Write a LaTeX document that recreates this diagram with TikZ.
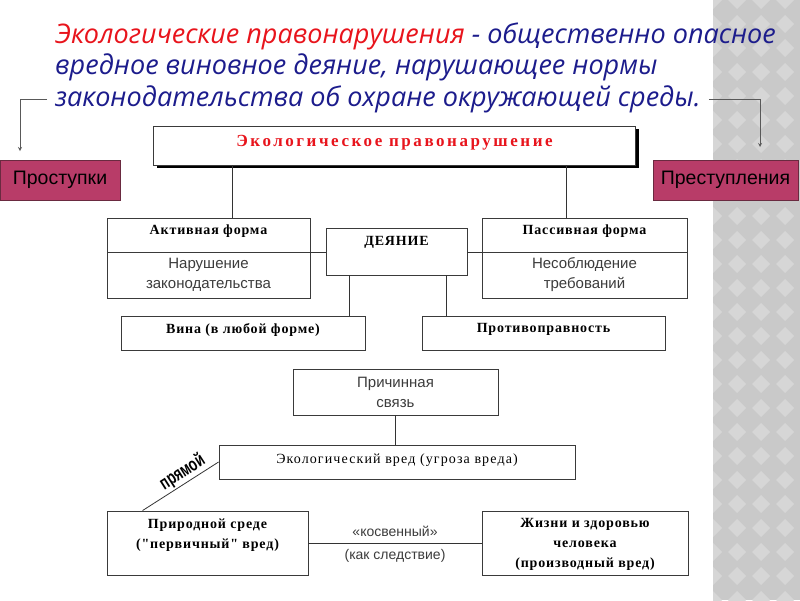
\documentclass[tikz,border=0pt]{standalone}
\usepackage{fontspec}
\setmainfont{Liberation Serif}
\setsansfont{Liberation Sans}
\newfontfamily\titlefont{Open Sans}
\newfontfamily\hdrfont[LetterSpace=6]{Liberation Serif}
\newfontfamily\ekofont[LetterSpace=15]{Liberation Serif}
\newfontfamily\vredfont[LetterSpace=8]{Liberation Serif}
\newfontfamily\narrowfont[FakeStretch=0.7]{Liberation Sans}
\usetikzlibrary{shadows}
\definecolor{titleblue}{HTML}{1C1C8C}
\definecolor{titlered}{HTML}{E8141C}
\definecolor{crimson}{HTML}{B83C68}
\definecolor{crimsonline}{HTML}{6A2A40}
\definecolor{boxline}{HTML}{3A3A3A}
\definecolor{textgray}{HTML}{3C3C3C}
\definecolor{stripgray}{HTML}{C9C9C9}
\definecolor{diamondgray}{HTML}{D6D6D6}
\begin{document}
\begin{tikzpicture}[x=1pt,y=-1pt,
  title/.style={anchor=west, inner xsep=8pt, inner ysep=0pt, text=titleblue, font=\titlefont\itshape\fontsize{27}{29}\selectfont},
  kind/.style={rectangle, draw=crimsonline, fill=crimson, line width=0.8pt, minimum height=40, font=\sffamily\fontsize{19.5}{21}\selectfont},
  box/.style={rectangle, draw=boxline, line width=0.9pt, fill=white, inner sep=1pt, align=center},
  hdr/.style={font=\hdrfont\bfseries\fontsize{14}{20}\selectfont},
  body/.style={font=\sffamily\fontsize{15}{20}\selectfont, text=textgray},
  arr/.style={draw=black!65, line width=0.8pt, ->, >=stealth},
  conn/.style={draw=black!80, line width=0.8pt}]
\useasboundingbox (0,0) rectangle (800,600);
% gray strip on the right
\fill[stripgray] (713,0) rectangle (800,600);
\begin{scope}
  \clip (713,0) rectangle (800,600);
  \foreach \i in {0,...,4}
    \foreach \j in {0,...,25}
      \fill[diamondgray] (713+\i*24, \j*24-9) -- ++(9,9) -- ++(-9,9) -- ++(-9,-9) -- cycle;
\end{scope}

% definition
\node[title] (t1) at (47,36) {{\color{titlered}Экологические правонарушения} - общественно опасное};
\node[title] (t2) at (47,67) {вредное виновное деяние, нарушающее нормы};
\node[title] (t3) at (47,99) {законодательства об охране окружающей среды.};

\node[kind, minimum width=120] (prost) at (60,180) {Проступки};
\node[kind, minimum width=145] (prest) at (725.5,180) {Преступления};
\coordinate (pl) at (20,151);
\coordinate (pr) at (760,147);
\draw[arr] (t3.west) -| (pl);
\draw[arr] (t3.east) -| (pr);

% scheme
\node[box, minimum width=482, minimum height=39, text depth=9pt, text=titlered,
      font=\ekofont\bfseries\fontsize{17}{19}\selectfont,
      drop shadow={shadow xshift=3pt, shadow yshift=-3pt, fill=black, opacity=1}] (eko) at (394.5,145.5) {Экологическое правонарушение};

\node[box, hdr, minimum width=203, minimum height=34, text depth=10pt] (akth) at (208.5,235) {Активная форма};
\node[box, body, minimum width=203, minimum height=46] (aktb) at (208.5,275) {Нарушение\\законодательства};
\node[box, hdr, minimum width=141, minimum height=47, text depth=21pt] (deyanie) at (396.5,251.5) {ДЕЯНИЕ};
\node[box, hdr, minimum width=205, minimum height=34, text depth=10pt] (passh) at (584.5,235) {Пассивная форма};
\node[box, body, minimum width=205, minimum height=46] (passb) at (584.5,275) {Несоблюдение\\требований};

\node[box, hdr, minimum width=244, minimum height=34, text depth=10pt] (vina) at (243,333) {Вина (в любой форме)};
\node[box, hdr, minimum width=243, minimum height=34, text depth=10pt] (protiv) at (543.5,333) {Противоправность};

\node[box, body, minimum width=205, minimum height=46] (prichina) at (395.5,392) {Причинная\\связь};
\node[box, font=\vredfont\fontsize{14}{16}\selectfont, minimum width=356, minimum height=34, text depth=6pt] (ekovred) at (397,462) {Экологический вред (угроза вреда)};

\node[box, hdr, minimum width=201, minimum height=64, text depth=19pt] (priroda) at (207.5,543) {Природной среде\\("первичный" вред)};
\node[box, hdr, minimum width=206, minimum height=64, text depth=0pt] (zhizni) at (585,543) {Жизни и здоровью\\человека\\(производный вред)};

\draw[conn] ([xshift=23.5pt]akth.north) -- ([xshift=23.5pt]akth.north |- eko.south);
\draw[conn] ([xshift=-18.5pt]passh.north) -- ([xshift=-18.5pt]passh.north |- eko.south);
\draw[conn] (akth.south east) -- (deyanie.west |- akth.south east);
\draw[conn] (passh.south west) -- (deyanie.east |- passh.south west);
\draw[conn] ([xshift=-47.5pt]deyanie.south) -- ([xshift=-47.5pt]deyanie.south |- vina.north);
\draw[conn] ([xshift=49.5pt]deyanie.south) -- ([xshift=49.5pt]deyanie.south |- protiv.north);
\draw[conn] (prichina.south) -- (prichina.south |- ekovred.north);
\draw[conn] (ekovred.west) -- ([xshift=36pt]priroda.north west)
  node[pos=0.4, sloped, above, inner sep=1pt, font=\narrowfont\bfseries\fontsize{19}{21}\selectfont] {прямой};
\draw[conn] (priroda.east) -- (zhizni.west)
  node[midway, above=3pt, body, font=\sffamily\fontsize{14}{20}\selectfont] {«косвенный»}
  node[midway, below=3pt, body, font=\sffamily\fontsize{14}{20}\selectfont] {(как следствие)};
\end{tikzpicture}
\end{document}
